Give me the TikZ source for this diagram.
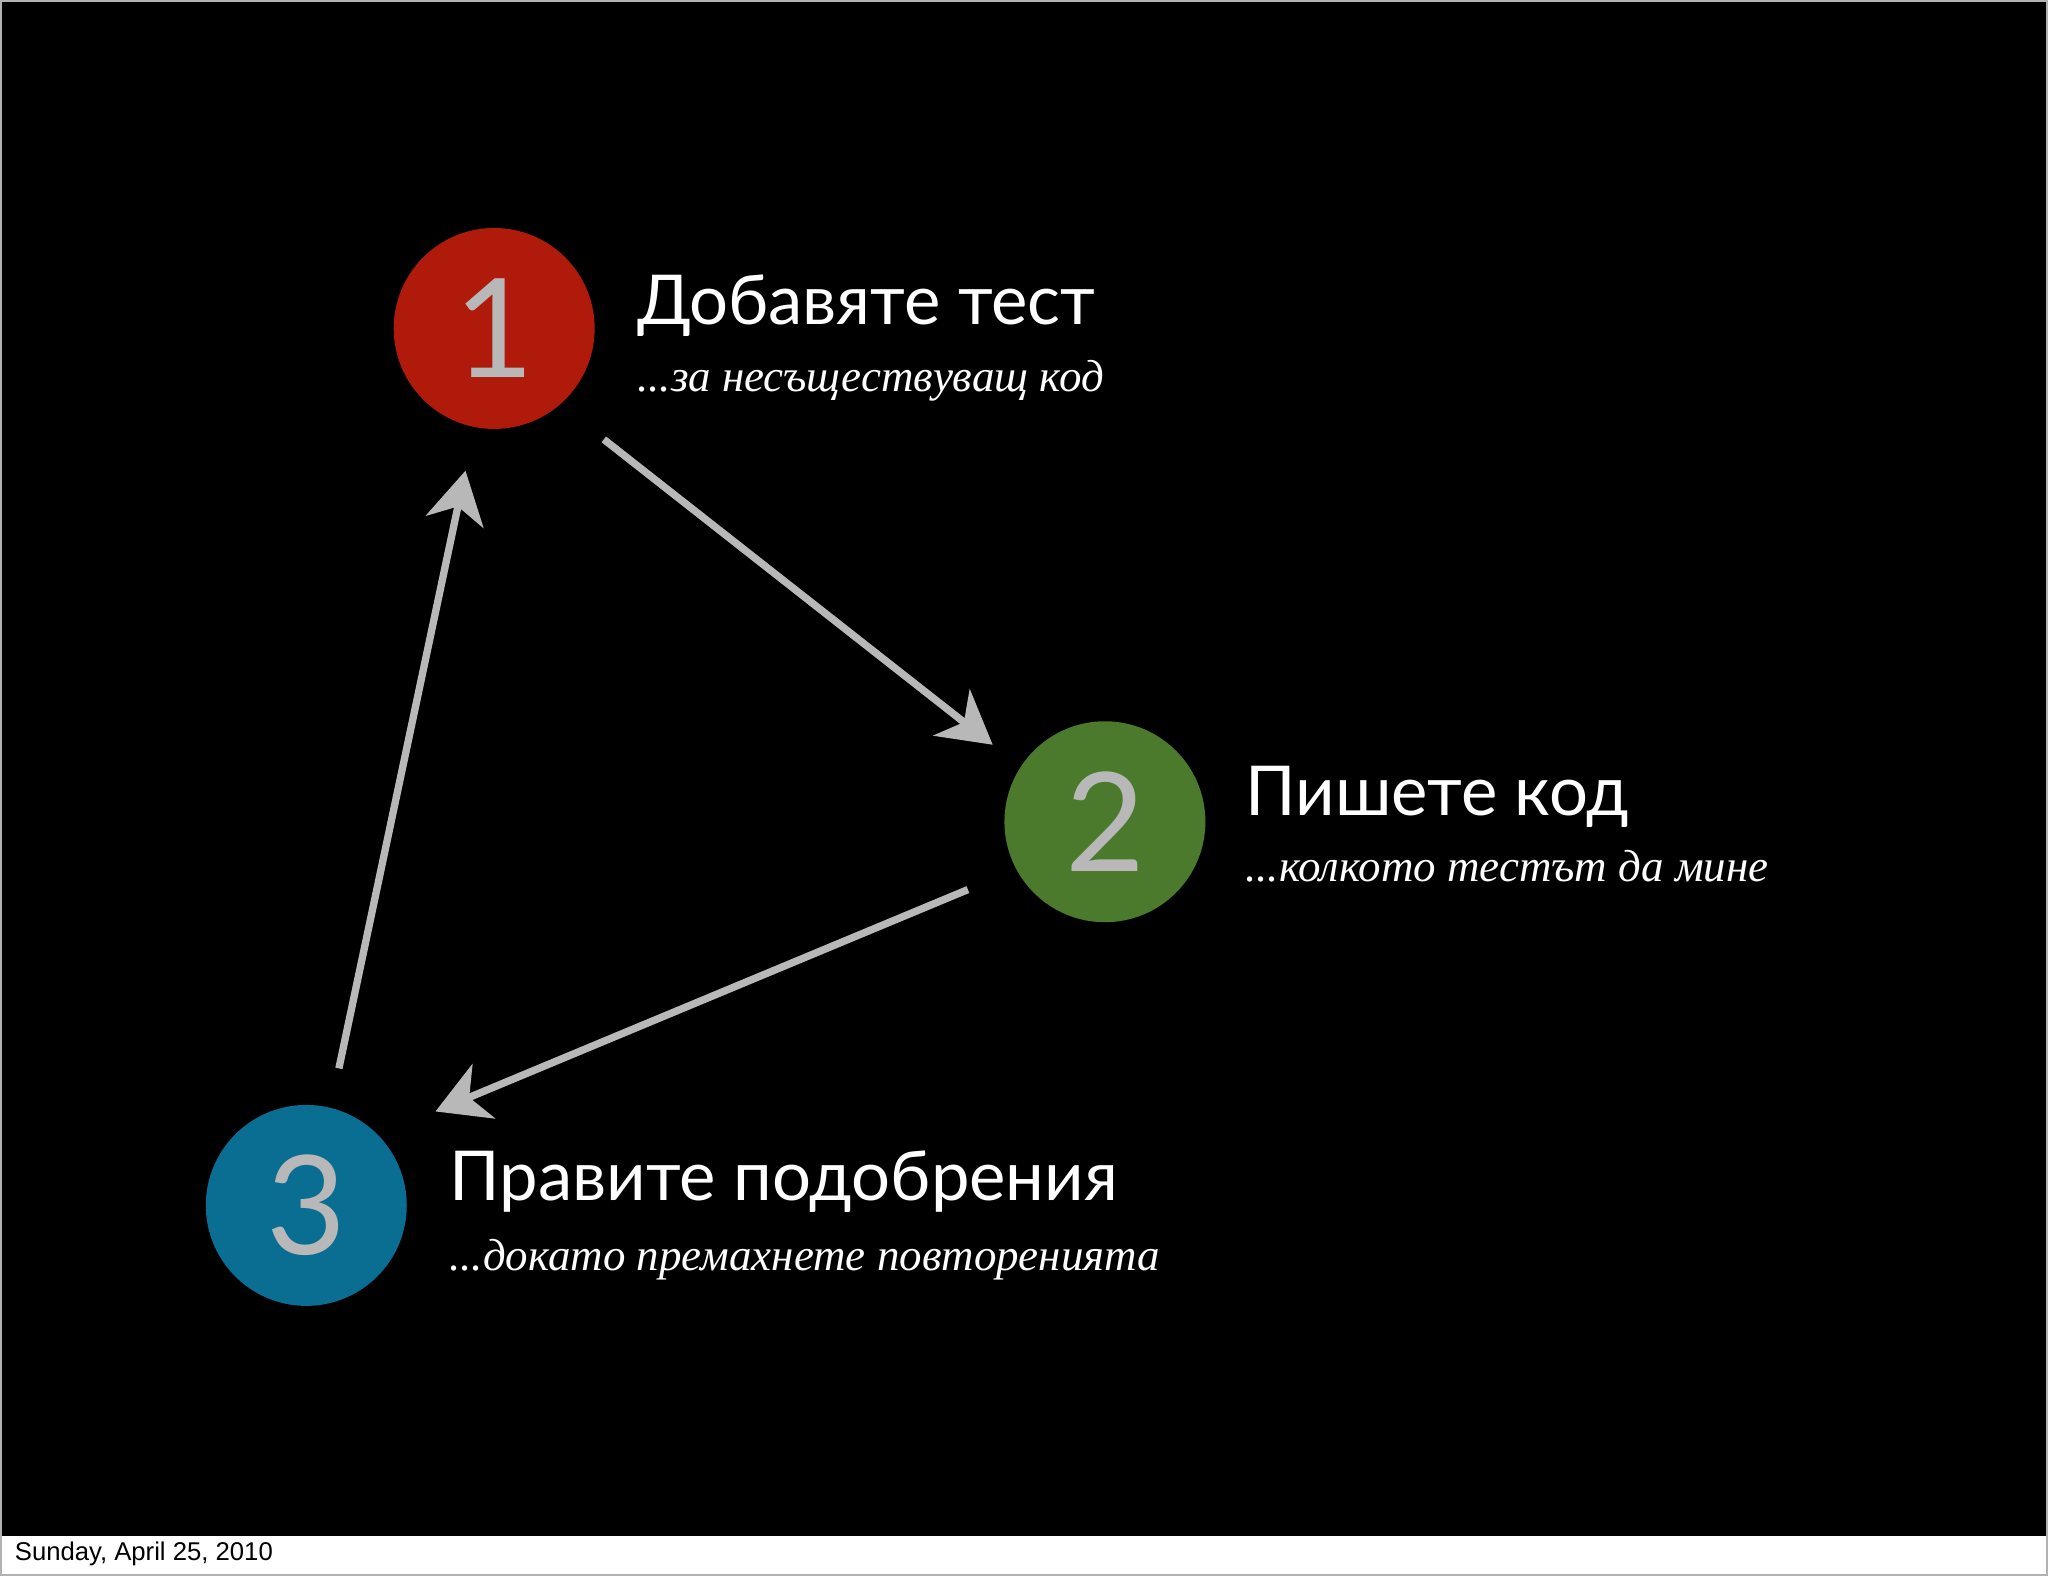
\documentclass[tikz,border=0pt]{standalone}
\usepackage{fontspec}
\setmainfont{Lato}
\newfontfamily\subfont{Liberation Serif}
\newfontfamily\datefont{Liberation Sans}
\usetikzlibrary{arrows.meta}
\definecolor{cred}{HTML}{B01A0A}
\definecolor{cgreen}{HTML}{4C7A2C}
\definecolor{cblue}{HTML}{0A6E93}
\definecolor{chalk}{HTML}{B8B8B8}
\tikzset{
 num/.style={circle,minimum size=1.54cm,inner sep=0pt,text=chalk,font=\fontsize{30}{30}\selectfont},
 head/.style={anchor=base west,text=white,inner sep=0pt,font=\fontsize{15}{15}\selectfont},
 sub/.style={anchor=base west,text=white,inner sep=0pt,font=\subfont\itshape\fontsize{9.8}{10}\selectfont},
 arr/.style={draw=chalk,line width=1.6pt,-{Stealth[length=0.4cm,width=0.45cm,inset=0.12cm]}}
}
\begin{document}
\begin{tikzpicture}[x=1cm,y=1cm]
\fill[white] (0,0) rectangle (15.68,12.06);
\fill[black] (0,0.3) rectangle (15.68,12.06);
\draw[gray!60,line width=0.4pt] (0,0) rectangle (15.68,12.06);
\node[num,fill=cred] (c1) at (3.78,9.55) {1};
\node[num,fill=cgreen] (c2) at (8.46,5.77) {2};
\node[num,fill=cblue] (c3) at (2.34,2.83) {3};
\node[head] (h1) at (4.87,9.58) {Добавяте тест};
\node[sub] (s1) at (4.87,9.07) {...за несъществуващ код};
\node[head] (h2) at (9.53,5.82) {Пишете код};
\node[sub] (s2) at (9.53,5.31) {...колкото тестът да мине};
\node[head] (h3) at (3.43,2.87) {Правите подобрения};
\node[sub] (s3) at (3.43,2.33) {...докато премахнете повторенията};
\coordinate (a1s) at (4.62,8.70);
\coordinate (a1e) at (7.60,6.36);
\coordinate (a2s) at (7.41,5.25);
\coordinate (a2e) at (3.33,3.55);
\coordinate (a3s) at (2.59,3.88);
\coordinate (a3e) at (3.56,8.46);
\draw[arr] (a1s) -- (a1e);
\draw[arr] (a2s) -- (a2e);
\draw[arr] (a3s) -- (a3e);
\node[anchor=west,inner sep=0pt,font=\datefont\fontsize{5.6}{6}\selectfont] (d) at (0.1,0.16) {Sunday, April 25, 2010};
\end{tikzpicture}
\end{document}
